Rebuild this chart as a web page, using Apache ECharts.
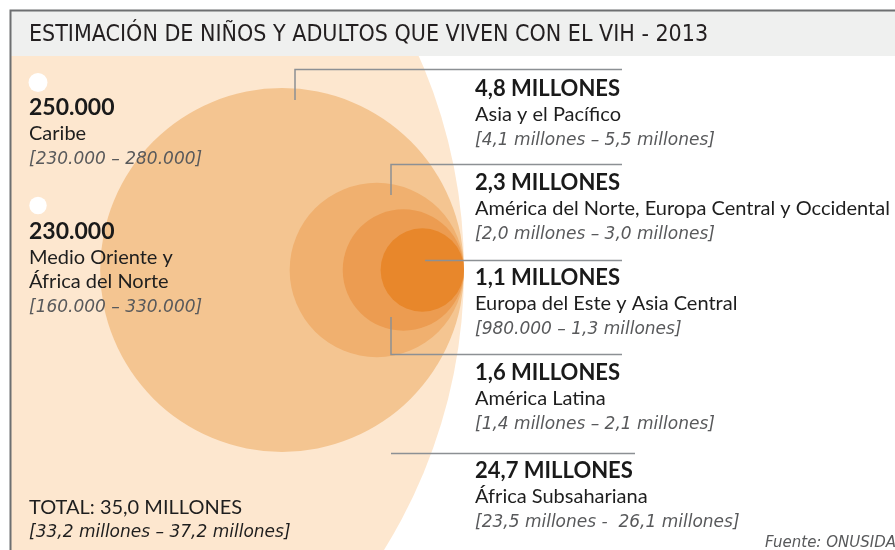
<!DOCTYPE html>
<html>
<head>
<meta charset="utf-8">
<script src="https://cdn.jsdelivr.net/npm/echarts@6/dist/echarts.min.js"></script>
<style>
  html, body { margin: 0; padding: 0; background: #fff; }
  #chart { width: 895px; height: 550px; }
</style>
</head>
<body>
<div id="chart"></div>
<script>
// datos (millones de personas)
const regions = ['África Subsahariana', 'Asia y el Pacífico', 'América del Norte, Europa Central y Occidental', 'América Latina', 'Europa del Este y Asia Central'];
const valores = [24.7, 4.8, 2.3, 1.6, 1.1];
const valorLabels = ['24,7 MILLONES', '4,8 MILLONES', '2,3 MILLONES', '1,6 MILLONES', '1,1 MILLONES'];
const rangos = ['[23,5 millones -  26,1 millones]', '[4,1 millones – 5,5 millones]', '[2,0 millones – 3,0 millones]', '[1,4 millones – 2,1 millones]', '[980.000 – 1,3 millones]'];

const regionesChicas = ['Caribe', 'Medio Oriente y\nÁfrica del Norte'];
const valoresChicos = [0.25, 0.23];
const valorChicoLabels = ['250.000', '230.000'];
const rangosChicos = ['[230.000 – 280.000]', '[160.000 – 330.000]'];

const totalLabel = 'TOTAL: 35,0 MILLONES';
const totalRango = '[33,2 millones – 37,2 millones]';

// estilo / layout
const colores = ['#fde7cf', '#f4c591', '#f0b06f', '#ec9c51', '#e8872b'];
const K = 37.9;          // px por millón (radio)
const R_MAX = 530;       // el círculo de África se recorta
const TX = 464, TY = 270; // punto tangente
const radio = v => Math.min(v * K, R_MAX);

const FONT = 'Lato, "Open Sans", sans-serif';
const IT_FONT = '"DejaVu Sans", sans-serif';
const TITLE_FONT = '"Liberation Sans Narrow", "DejaVu Sans Condensed", sans-serif';

// posiciones de bloques de texto a la derecha (orden de regions)
const bloqueY = [471, 89, 183, 373, 278];
const bloqueChicoY = [108, 232];
const puntoChicoY = [82.5, 205.5];

const graphics = [];
function txt(text, x, y, font, fill) {
  graphics.push({
    type: 'text', x: x, y: y, z: 100,
    style: { text: text, font: font, fill: fill, align: 'left', verticalAlign: 'middle' }
  });
}
function linea(points, stroke, width) {
  graphics.push({
    type: 'polyline', z: 90,
    shape: { points: points },
    style: { stroke: stroke || '#8c9094', lineWidth: width || 1.5, fill: null }
  });
}

// fondo blanco a la izquierda del borde y cabecera
graphics.push({ type: 'rect', z: 80, shape: { x: 0, y: 0, width: 10, height: 550 }, style: { fill: '#fff' } });
graphics.push({ type: 'rect', z: 80, shape: { x: 0, y: 0, width: 895, height: 10 }, style: { fill: '#fff' } });
graphics.push({ type: 'rect', z: 80, shape: { x: 10, y: 10, width: 885, height: 46 }, style: { fill: '#eff0ef' } });
linea([[10.5, 550], [10.5, 10.5], [895, 10.5]], '#6d6f71', 2);

txt('ESTIMACIÓN DE NIÑOS Y ADULTOS QUE VIVEN CON EL VIH - 2013', 29, 35, '23px ' + TITLE_FONT, '#231f20');

// líneas guía
linea([[295, 100], [295, 69.5], [622, 69.5]]);
linea([[391, 195], [391, 164.5], [622, 164.5]]);
linea([[425, 260.5], [622, 260.5]]);
linea([[391, 317], [391, 354.5], [622, 354.5]]);
linea([[391, 453.5], [635, 453.5]]);

// textos de la derecha
regions.forEach(function (r, i) {
  const y = bloqueY[i];
  txt(valorLabels[i], 475, y, 'bold 22px ' + FONT, '#1a1a1a');
  txt(r, 475, y + 26, '20px ' + FONT, '#1e1e1e');
  txt(rangos[i], 475, y + 52, 'italic 17px ' + IT_FONT, '#58595b');
});

// textos de la izquierda
regionesChicas.forEach(function (r, i) {
  const y = bloqueChicoY[i];
  const lineas = r.split('\n');
  txt(valorChicoLabels[i], 29, y, 'bold 23px ' + FONT, '#1a1a1a');
  lineas.forEach(function (l, j) {
    txt(l, 29, y + 26 + j * 24, '20px ' + FONT, '#1e1e1e');
  });
  txt(rangosChicos[i], 29, y + 28 + lineas.length * 24, 'italic 17px ' + IT_FONT, '#58595b');
});

txt(totalLabel, 29, 508, '20px ' + FONT, '#1e1e1e');
txt(totalRango, 29, 533, 'italic 17px ' + IT_FONT, '#1e1e1e');
txt('Fuente: ONUSIDA', 765, 543, 'italic 15px ' + IT_FONT, '#58595b');

// círculos
const circulos = valores.map(function (v, i) {
  return { name: regions[i], value: [TX - radio(v), TY, v], itemStyle: { color: colores[i] } };
});
const puntos = valoresChicos.map(function (v, i) {
  return { name: regionesChicas[i], value: [38, puntoChicoY[i], v] };
});

const chart = echarts.init(document.getElementById('chart'));
chart.setOption({
  animation: false,
  backgroundColor: '#fff',
  grid: { left: 0, right: 0, top: 0, bottom: 0 },
  xAxis: { type: 'value', min: 0, max: 895, show: false },
  yAxis: { type: 'value', min: 0, max: 550, inverse: true, show: false },
  series: [
    {
      type: 'scatter', clip: false, silent: true,
      symbolSize: function (val) { return 2 * radio(val[2]); },
      itemStyle: { opacity: 1 },
      data: circulos
    },
    {
      type: 'scatter', clip: false, silent: true,
      symbolSize: function (val) { return 2 * radio(val[2]); },
      itemStyle: { color: '#ffffff', opacity: 1 },
      data: puntos
    }
  ],
  graphic: graphics
});
</script>
</body>
</html>
